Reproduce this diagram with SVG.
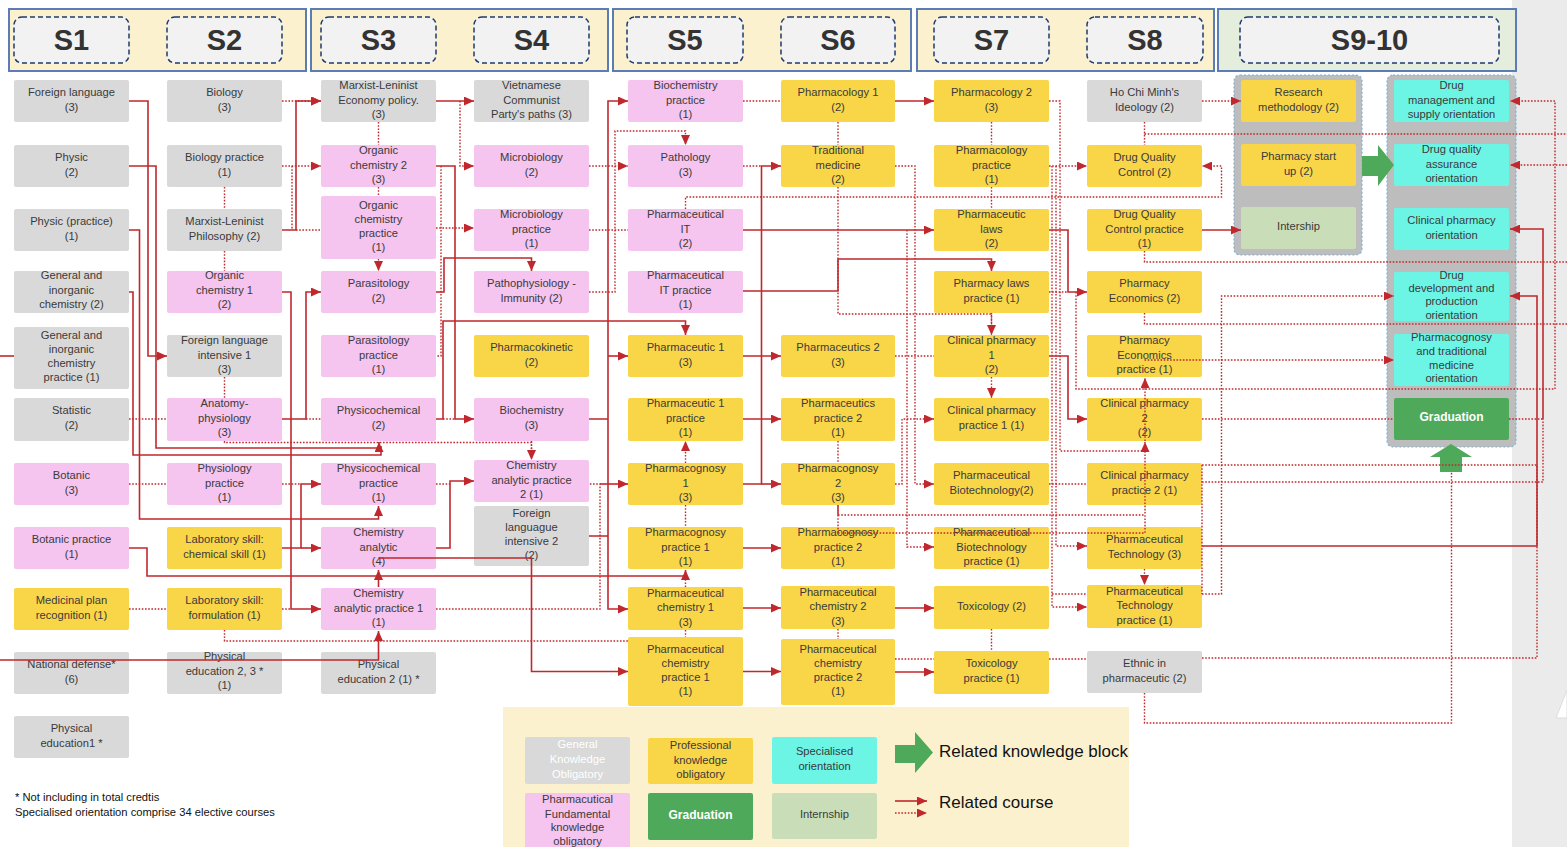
<svg xmlns="http://www.w3.org/2000/svg" width="1567" height="847" viewBox="0 0 1567 847">
<defs>
<style>
text{font-family:"Liberation Sans",Arial,Helvetica,sans-serif;font-size:11.2px;fill:#3a3a3a;text-anchor:middle;transform:translate(0px,-2px)}
.g{fill:#d9d9d9}.p{fill:#f5c4ef}.y{fill:#f9d548}.c{fill:#6cf5e5}.gr{fill:#4eaa5a}.lg{fill:#c9deb8}
.g,.p,.y,.c,.gr,.lg{rx:2px}
.band{fill:#fcf1cf;stroke:#5b7db3;stroke-width:2}
.sem{fill:#f2f2f2;stroke:#1d3a6e;stroke-width:1.5;stroke-dasharray:5 3;rx:8px}
.hl{font-size:29px;font-weight:bold;fill:#333;transform:translate(0px,-1px)}
.cont{fill:#bdbdbd;stroke:#7fb3d5;stroke-width:1.2;stroke-dasharray:2 2;rx:6px}
.s{fill:none;stroke:#c0282d;stroke-width:1.6}
.d{fill:none;stroke:#c0282d;stroke-width:1.4;stroke-dasharray:1.6 1.6}
.a{marker-end:url(#ah)}
.w{fill:#fff}
.wb{fill:#fff;font-weight:bold;font-size:12px}
.big{fill:#4eaa5a}
.lt{font-size:17px;fill:#111;text-anchor:start}
.fn{font-size:11.2px;fill:#111;text-anchor:start}
</style>
<marker id="ah" viewBox="0 0 10 9" refX="10" refY="4.5" markerWidth="10" markerHeight="9" markerUnits="userSpaceOnUse" orient="auto"><path d="M0,0L10,4.5L0,9z" fill="#c0282d"/></marker>
</defs>
<rect x="0" y="0" width="1567" height="847" fill="#fff"/>
<rect x="1512" y="0" width="55" height="847" fill="#ebebeb"/>
<polygon points="1556,718 1567,690 1567,718" fill="#fff" stroke="#dcdcdc" stroke-width="1"/>

<g id="header">
<rect class="band" x="9" y="9" width="297" height="62"/>
<rect class="band" x="311" y="9" width="297" height="62"/>
<rect class="band" x="613" y="9" width="298" height="62"/>
<rect class="band" x="917" y="9" width="297" height="62"/>
<rect class="band" x="1218" y="9" width="298" height="62" style="fill:#e5eedc"/>
<rect class="sem" x="14" y="17" width="115" height="46"/><text class="hl" x="71.5" y="50.5">S1</text>
<rect class="sem" x="167" y="17" width="115" height="46"/><text class="hl" x="224.5" y="50.5">S2</text>
<rect class="sem" x="321" y="17" width="115" height="46"/><text class="hl" x="378.5" y="50.5">S3</text>
<rect class="sem" x="474" y="17" width="115" height="46"/><text class="hl" x="531.5" y="50.5">S4</text>
<rect class="sem" x="627" y="17" width="116" height="46"/><text class="hl" x="685" y="50.5">S5</text>
<rect class="sem" x="781" y="17" width="114" height="46"/><text class="hl" x="838" y="50.5">S6</text>
<rect class="sem" x="934" y="17" width="115" height="46"/><text class="hl" x="991.5" y="50.5">S7</text>
<rect class="sem" x="1087" y="17" width="116" height="46"/><text class="hl" x="1145" y="50.5">S8</text>
<rect class="sem" x="1240" y="17" width="259" height="46"/><text class="hl" x="1369.5" y="50.5">S9-10</text>
</g>

<g id="legend">
<rect x="503" y="707" width="626" height="140" fill="#fcf1cf"/>
<rect class="g" x="525" y="737" width="105" height="47"/><text class="w" x="577.5" y="750">General<tspan x="577.5" dy="15">Knowledge</tspan><tspan x="577.5" dy="15">Obligatory</tspan></text>
<rect class="y" x="648" y="738" width="105" height="46"/><text x="700.5" y="751">Professional<tspan x="700.5" dy="14.5">knowledge</tspan><tspan x="700.5" dy="14">obligatory</tspan></text>
<rect class="c" x="772" y="737" width="105" height="47"/><text x="824.5" y="757">Specialised<tspan x="824.5" dy="14.5">orientation</tspan></text>
<rect class="p" x="525" y="793" width="105" height="60"/><text x="577.5" y="805">Pharmacutical<tspan x="577.5" dy="14.5">Fundamental</tspan><tspan x="577.5" dy="13.5">knowledge</tspan><tspan x="577.5" dy="13.5">obligatory</tspan></text>
<rect class="gr" x="648" y="793" width="105" height="47"/><text class="wb" x="700.5" y="821">Graduation</text>
<rect class="lg" x="772" y="793" width="105" height="46"/><text x="824.5" y="820">Internship</text>
<polygon class="big" points="895,745 915,745 915,732 933,752.5 915,773 915,763 895,763"/>
<text class="lt" x="939" y="759">Related knowledge block</text>
<path class="s a" d="M895,801H927"/>
<path class="d a" d="M895,813H927"/>
<text class="lt" x="939" y="810">Related course</text>
</g>

<g id="footnote">
<text class="fn" x="15" y="803">* Not including in total credtis</text>
<text class="fn" x="15" y="818">Specialised orientation comprise 34 elective courses</text>
</g>

<g id="containers">
<rect class="cont" x="1234" y="75" width="128" height="180"/>
<rect class="cont" x="1387" y="75" width="129" height="372"/>
<polygon class="big" points="1362,156 1378,156 1378,145 1394,165 1378,186 1378,176 1362,176"/>
<polygon class="big" points="1440,472 1440,457 1430,457 1451,444 1472,457 1462,457 1462,472"/>
</g>

<g id="col1">
<g id="foreign-language"><rect class="g" x="14" y="80" width="115" height="42"/><text x="71.5" y="97.5">Foreign language<tspan x="71.5" dy="15">(3)</tspan></text></g>
<g id="physic"><rect class="g" x="14" y="145" width="115" height="42"/><text x="71.5" y="162.5">Physic<tspan x="71.5" dy="15">(2)</tspan></text></g>
<g id="physic-practice"><rect class="g" x="14" y="209" width="115" height="42"/><text x="71.5" y="226.5">Physic (practice)<tspan x="71.5" dy="15">(1)</tspan></text></g>
<g id="gen-inorg-chem"><rect class="g" x="14" y="271" width="115" height="42"/><text x="71.5" y="281">General and<tspan x="71.5" dy="14.5">inorganic</tspan><tspan x="71.5" dy="14.5">chemistry (2)</tspan></text></g>
<g id="gen-inorg-chem-practice"><rect class="g" x="14" y="327" width="115" height="62"/><text x="71.5" y="341">General and<tspan x="71.5" dy="14">inorganic</tspan><tspan x="71.5" dy="14">chemistry</tspan><tspan x="71.5" dy="14">practice (1)</tspan></text></g>
<g id="statistic"><rect class="g" x="14" y="398" width="115" height="43"/><text x="71.5" y="415.5">Statistic<tspan x="71.5" dy="15">(2)</tspan></text></g>
<g id="botanic"><rect class="p" x="14" y="463" width="115" height="42"/><text x="71.5" y="480.5">Botanic<tspan x="71.5" dy="15">(3)</tspan></text></g>
<g id="botanic-practice"><rect class="p" x="14" y="527" width="115" height="42"/><text x="71.5" y="544.5">Botanic practice<tspan x="71.5" dy="15">(1)</tspan></text></g>
<g id="medicinal-plan"><rect class="y" x="14" y="588" width="115" height="42"/><text x="71.5" y="605.5">Medicinal plan<tspan x="71.5" dy="15">recognition (1)</tspan></text></g>
<g id="national-defense"><rect class="g" x="14" y="652" width="115" height="42"/><text x="71.5" y="669.5">National defense*<tspan x="71.5" dy="15">(6)</tspan></text></g>
<g id="physical-education1"><rect class="g" x="14" y="716" width="115" height="42"/><text x="71.5" y="733.5">Physical<tspan x="71.5" dy="15">education1 *</tspan></text></g>
</g>

<g id="col2">
<g id="biology"><rect class="g" x="167" y="80" width="115" height="42"/><text x="224.5" y="97.5">Biology<tspan x="224.5" dy="15">(3)</tspan></text></g>
<g id="biology-practice"><rect class="g" x="167" y="145" width="115" height="42"/><text x="224.5" y="162.5">Biology practice<tspan x="224.5" dy="15">(1)</tspan></text></g>
<g id="ml-philosophy"><rect class="g" x="167" y="209" width="115" height="42"/><text x="224.5" y="226.5">Marxist-Leninist<tspan x="224.5" dy="15">Philosophy (2)</tspan></text></g>
<g id="organic-chem-1"><rect class="p" x="167" y="271" width="115" height="42"/><text x="224.5" y="281">Organic<tspan x="224.5" dy="14.5">chemistry 1</tspan><tspan x="224.5" dy="14.5">(2)</tspan></text></g>
<g id="foreign-lang-int-1"><rect class="g" x="167" y="335" width="115" height="42"/><text x="224.5" y="346">Foreign language<tspan x="224.5" dy="14.5">intensive 1</tspan><tspan x="224.5" dy="14.5">(3)</tspan></text></g>
<g id="anatomy-physiology"><rect class="p" x="167" y="398" width="115" height="43"/><text x="224.5" y="409">Anatomy-<tspan x="224.5" dy="14.5">physiology</tspan><tspan x="224.5" dy="14.5">(3)</tspan></text></g>
<g id="physiology-practice"><rect class="p" x="167" y="463" width="115" height="42"/><text x="224.5" y="474">Physiology<tspan x="224.5" dy="14.5">practice</tspan><tspan x="224.5" dy="14.5">(1)</tspan></text></g>
<g id="lab-chemical-skill"><rect class="y" x="167" y="527" width="115" height="42"/><text x="224.5" y="544.5">Laboratory skill:<tspan x="224.5" dy="15">chemical skill (1)</tspan></text></g>
<g id="lab-formulation"><rect class="y" x="167" y="588" width="115" height="42"/><text x="224.5" y="605.5">Laboratory skill:<tspan x="224.5" dy="15">formulation (1)</tspan></text></g>
<g id="physical-education-23"><rect class="g" x="167" y="652" width="115" height="42"/><text x="224.5" y="662">Physical<tspan x="224.5" dy="14.5">education 2, 3 *</tspan><tspan x="224.5" dy="14.5">(1)</tspan></text></g>
</g>

<g id="col3">
<g id="ml-economy"><rect class="g" x="321" y="80" width="115" height="42"/><text x="378.5" y="91">Marxist-Leninist<tspan x="378.5" dy="14.5">Economy policy.</tspan><tspan x="378.5" dy="14.5">(3)</tspan></text></g>
<g id="organic-chem-2"><rect class="p" x="321" y="145" width="115" height="42"/><text x="378.5" y="156">Organic<tspan x="378.5" dy="14.5">chemistry 2</tspan><tspan x="378.5" dy="14.5">(3)</tspan></text></g>
<g id="organic-chem-practice"><rect class="p" x="321" y="196" width="115" height="63"/><text x="378.5" y="210.5">Organic<tspan x="378.5" dy="14">chemistry</tspan><tspan x="378.5" dy="14">practice</tspan><tspan x="378.5" dy="14">(1)</tspan></text></g>
<g id="parasitology"><rect class="p" x="321" y="271" width="115" height="42"/><text x="378.5" y="288.5">Parasitology<tspan x="378.5" dy="15">(2)</tspan></text></g>
<g id="parasitology-practice"><rect class="p" x="321" y="335" width="115" height="42"/><text x="378.5" y="346">Parasitology<tspan x="378.5" dy="14.5">practice</tspan><tspan x="378.5" dy="14.5">(1)</tspan></text></g>
<g id="physicochemical"><rect class="p" x="321" y="398" width="115" height="43"/><text x="378.5" y="415.5">Physicochemical<tspan x="378.5" dy="15">(2)</tspan></text></g>
<g id="physicochemical-practice"><rect class="p" x="321" y="463" width="115" height="42"/><text x="378.5" y="474">Physicochemical<tspan x="378.5" dy="14.5">practice</tspan><tspan x="378.5" dy="14.5">(1)</tspan></text></g>
<g id="chemistry-analytic"><rect class="p" x="321" y="527" width="115" height="42"/><text x="378.5" y="538">Chemistry<tspan x="378.5" dy="14.5">analytic</tspan><tspan x="378.5" dy="14.5">(4)</tspan></text></g>
<g id="chem-analytic-practice-1"><rect class="p" x="321" y="588" width="115" height="42"/><text x="378.5" y="599">Chemistry<tspan x="378.5" dy="14.5">analytic practice 1</tspan><tspan x="378.5" dy="14.5">(1)</tspan></text></g>
<g id="physical-education-2"><rect class="g" x="321" y="652" width="115" height="42"/><text x="378.5" y="669.5">Physical<tspan x="378.5" dy="15">education 2 (1) *</tspan></text></g>
</g>

<g id="col4">
<g id="vietnamese-communist"><rect class="g" x="474" y="80" width="115" height="42"/><text x="531.5" y="91">Vietnamese<tspan x="531.5" dy="14.5">Communist</tspan><tspan x="531.5" dy="14.5">Party's paths (3)</tspan></text></g>
<g id="microbiology"><rect class="p" x="474" y="145" width="115" height="42"/><text x="531.5" y="162.5">Microbiology<tspan x="531.5" dy="15">(2)</tspan></text></g>
<g id="microbiology-practice"><rect class="p" x="474" y="209" width="115" height="42"/><text x="531.5" y="220">Microbiology<tspan x="531.5" dy="14.5">practice</tspan><tspan x="531.5" dy="14.5">(1)</tspan></text></g>
<g id="pathophysiology"><rect class="p" x="474" y="271" width="115" height="42"/><text x="531.5" y="288.5">Pathophysiology -<tspan x="531.5" dy="15">Immunity (2)</tspan></text></g>
<g id="pharmacokinetic"><rect class="y" x="474" y="335" width="115" height="42"/><text x="531.5" y="352.5">Pharmacokinetic<tspan x="531.5" dy="15">(2)</tspan></text></g>
<g id="biochemistry"><rect class="p" x="474" y="398" width="115" height="43"/><text x="531.5" y="415.5">Biochemistry<tspan x="531.5" dy="15">(3)</tspan></text></g>
<g id="chem-analytic-practice-2"><rect class="p" x="474" y="460" width="115" height="42"/><text x="531.5" y="471">Chemistry<tspan x="531.5" dy="14.5">analytic practice</tspan><tspan x="531.5" dy="14.5">2 (1)</tspan></text></g>
<g id="foreign-lang-int-2"><rect class="g" x="474" y="506" width="115" height="60"/><text x="531.5" y="519">Foreign<tspan x="531.5" dy="14">languague</tspan><tspan x="531.5" dy="14">intensive 2</tspan><tspan x="531.5" dy="14">(2)</tspan></text></g>
</g>

<g id="col5">
<g id="biochemistry-practice"><rect class="p" x="628" y="80" width="115" height="42"/><text x="685.5" y="91">Biochemistry<tspan x="685.5" dy="14.5">practice</tspan><tspan x="685.5" dy="14.5">(1)</tspan></text></g>
<g id="pathology"><rect class="p" x="628" y="145" width="115" height="42"/><text x="685.5" y="162.5">Pathology<tspan x="685.5" dy="15">(3)</tspan></text></g>
<g id="pharmaceutical-it"><rect class="p" x="628" y="209" width="115" height="42"/><text x="685.5" y="220">Pharmaceutical<tspan x="685.5" dy="14.5">IT</tspan><tspan x="685.5" dy="14.5">(2)</tspan></text></g>
<g id="pharmaceutical-it-practice"><rect class="p" x="628" y="271" width="115" height="42"/><text x="685.5" y="281">Pharmaceutical<tspan x="685.5" dy="14.5">IT practice</tspan><tspan x="685.5" dy="14.5">(1)</tspan></text></g>
<g id="pharmaceutic-1"><rect class="y" x="628" y="335" width="115" height="42"/><text x="685.5" y="352.5">Pharmaceutic 1<tspan x="685.5" dy="15">(3)</tspan></text></g>
<g id="pharmaceutic-1-practice"><rect class="y" x="628" y="398" width="115" height="43"/><text x="685.5" y="409">Pharmaceutic 1<tspan x="685.5" dy="14.5">practice</tspan><tspan x="685.5" dy="14.5">(1)</tspan></text></g>
<g id="pharmacognosy-1"><rect class="y" x="628" y="463" width="115" height="42"/><text x="685.5" y="474">Pharmacognosy<tspan x="685.5" dy="14.5">1</tspan><tspan x="685.5" dy="14.5">(3)</tspan></text></g>
<g id="pharmacognosy-practice-1"><rect class="y" x="628" y="527" width="115" height="42"/><text x="685.5" y="538">Pharmacognosy<tspan x="685.5" dy="14.5">practice 1</tspan><tspan x="685.5" dy="14.5">(1)</tspan></text></g>
<g id="pharma-chem-1"><rect class="y" x="628" y="587" width="115" height="43"/><text x="685.5" y="598.5">Pharmaceutical<tspan x="685.5" dy="14.5">chemistry 1</tspan><tspan x="685.5" dy="14.5">(3)</tspan></text></g>
<g id="pharma-chem-practice-1"><rect class="y" x="628" y="637" width="115" height="69"/><text x="685.5" y="654.5">Pharmaceutical<tspan x="685.5" dy="14">chemistry</tspan><tspan x="685.5" dy="14">practice 1</tspan><tspan x="685.5" dy="14">(1)</tspan></text></g>
</g>

<g id="col6">
<g id="pharmacology-1"><rect class="y" x="781" y="80" width="114" height="42"/><text x="838" y="97.5">Pharmacology 1<tspan x="838" dy="15">(2)</tspan></text></g>
<g id="traditional-medicine"><rect class="y" x="781" y="145" width="114" height="42"/><text x="838" y="156">Traditional<tspan x="838" dy="14.5">medicine</tspan><tspan x="838" dy="14.5">(2)</tspan></text></g>
<g id="pharmaceutics-2"><rect class="y" x="781" y="335" width="114" height="42"/><text x="838" y="352.5">Pharmaceutics 2<tspan x="838" dy="15">(3)</tspan></text></g>
<g id="pharmaceutics-practice-2"><rect class="y" x="781" y="398" width="114" height="43"/><text x="838" y="409">Pharmaceutics<tspan x="838" dy="14.5">practice 2</tspan><tspan x="838" dy="14.5">(1)</tspan></text></g>
<g id="pharmacognosy-2"><rect class="y" x="781" y="463" width="114" height="42"/><text x="838" y="474">Pharmacognosy<tspan x="838" dy="14.5">2</tspan><tspan x="838" dy="14.5">(3)</tspan></text></g>
<g id="pharmacognosy-practice-2"><rect class="y" x="781" y="527" width="114" height="42"/><text x="838" y="538">Pharmacognosy<tspan x="838" dy="14.5">practice 2</tspan><tspan x="838" dy="14.5">(1)</tspan></text></g>
<g id="pharma-chem-2"><rect class="y" x="781" y="586" width="114" height="43"/><text x="838" y="597.5">Pharmaceutical<tspan x="838" dy="14.5">chemistry 2</tspan><tspan x="838" dy="14.5">(3)</tspan></text></g>
<g id="pharma-chem-practice-2"><rect class="y" x="781" y="639" width="114" height="66"/><text x="838" y="655">Pharmaceutical<tspan x="838" dy="14">chemistry</tspan><tspan x="838" dy="14">practice 2</tspan><tspan x="838" dy="14">(1)</tspan></text></g>
</g>

<g id="col7">
<g id="pharmacology-2"><rect class="y" x="934" y="80" width="115" height="42"/><text x="991.5" y="97.5">Pharmacology 2<tspan x="991.5" dy="15">(3)</tspan></text></g>
<g id="pharmacology-practice"><rect class="y" x="934" y="145" width="115" height="42"/><text x="991.5" y="156">Pharmacology<tspan x="991.5" dy="14.5">practice</tspan><tspan x="991.5" dy="14.5">(1)</tspan></text></g>
<g id="pharmaceutic-laws"><rect class="y" x="934" y="209" width="115" height="42"/><text x="991.5" y="220">Pharmaceutic<tspan x="991.5" dy="14.5">laws</tspan><tspan x="991.5" dy="14.5">(2)</tspan></text></g>
<g id="pharmacy-laws-practice"><rect class="y" x="934" y="271" width="115" height="42"/><text x="991.5" y="288.5">Pharmacy laws<tspan x="991.5" dy="15">practice (1)</tspan></text></g>
<g id="clinical-pharmacy-1"><rect class="y" x="934" y="335" width="115" height="42"/><text x="991.5" y="346">Clinical pharmacy<tspan x="991.5" dy="14.5">1</tspan><tspan x="991.5" dy="14.5">(2)</tspan></text></g>
<g id="clinical-pharmacy-practice-1"><rect class="y" x="934" y="398" width="115" height="43"/><text x="991.5" y="415.5">Clinical pharmacy<tspan x="991.5" dy="15">practice 1 (1)</tspan></text></g>
<g id="pharma-biotech"><rect class="y" x="934" y="463" width="115" height="42"/><text x="991.5" y="480.5">Pharmaceutical<tspan x="991.5" dy="15">Biotechnology(2)</tspan></text></g>
<g id="pharma-biotech-practice"><rect class="y" x="934" y="527" width="115" height="42"/><text x="991.5" y="538">Pharmaceutical<tspan x="991.5" dy="14.5">Biotechnology</tspan><tspan x="991.5" dy="14.5">practice (1)</tspan></text></g>
<g id="toxicology"><rect class="y" x="934" y="586" width="115" height="43"/><text x="991.5" y="611.5">Toxicology (2)</text></g>
<g id="toxicology-practice"><rect class="y" x="934" y="651" width="115" height="43"/><text x="991.5" y="669">Toxicology<tspan x="991.5" dy="15">practice (1)</tspan></text></g>
</g>

<g id="col8">
<g id="ho-chi-minh"><rect class="g" x="1087" y="80" width="115" height="42"/><text x="1144.5" y="97.5">Ho Chi Minh's<tspan x="1144.5" dy="15">Ideology (2)</tspan></text></g>
<g id="drug-qc"><rect class="y" x="1087" y="145" width="115" height="42"/><text x="1144.5" y="162.5">Drug Quality<tspan x="1144.5" dy="15">Control (2)</tspan></text></g>
<g id="drug-qc-practice"><rect class="y" x="1087" y="209" width="115" height="42"/><text x="1144.5" y="220">Drug Quality<tspan x="1144.5" dy="14.5">Control practice</tspan><tspan x="1144.5" dy="14.5">(1)</tspan></text></g>
<g id="pharmacy-economics"><rect class="y" x="1087" y="271" width="115" height="42"/><text x="1144.5" y="288.5">Pharmacy<tspan x="1144.5" dy="15">Economics (2)</tspan></text></g>
<g id="pharmacy-economics-practice"><rect class="y" x="1087" y="335" width="115" height="42"/><text x="1144.5" y="346">Pharmacy<tspan x="1144.5" dy="14.5">Economics</tspan><tspan x="1144.5" dy="14.5">practice (1)</tspan></text></g>
<g id="clinical-pharmacy-2"><rect class="y" x="1087" y="398" width="115" height="43"/><text x="1144.5" y="409">Clinical pharmacy<tspan x="1144.5" dy="14.5">2</tspan><tspan x="1144.5" dy="14.5">(2)</tspan></text></g>
<g id="clinical-pharmacy-practice-2"><rect class="y" x="1087" y="463" width="115" height="42"/><text x="1144.5" y="480.5">Clinical pharmacy<tspan x="1144.5" dy="15">practice 2 (1)</tspan></text></g>
<g id="pharma-technology"><rect class="y" x="1087" y="527" width="115" height="42"/><text x="1144.5" y="544.5">Pharmaceutical<tspan x="1144.5" dy="15">Technology (3)</tspan></text></g>
<g id="pharma-technology-practice"><rect class="y" x="1087" y="585" width="115" height="43"/><text x="1144.5" y="596.5">Pharmaceutical<tspan x="1144.5" dy="14.5">Technology</tspan><tspan x="1144.5" dy="14.5">practice (1)</tspan></text></g>
<g id="ethnic"><rect class="g" x="1087" y="651" width="115" height="42"/><text x="1144.5" y="668.5">Ethnic in<tspan x="1144.5" dy="15">pharmaceutic (2)</tspan></text></g>
</g>

<g id="col9">
<g id="research-methodology"><rect class="y" x="1241" y="80" width="115" height="42"/><text x="1298.5" y="97.5">Research<tspan x="1298.5" dy="15">methodology (2)</tspan></text></g>
<g id="pharmacy-startup"><rect class="y" x="1241" y="144" width="115" height="42"/><text x="1298.5" y="161.5">Pharmacy start<tspan x="1298.5" dy="15">up (2)</tspan></text></g>
<g id="intership"><rect class="lg" x="1241" y="207" width="115" height="42"/><text x="1298.5" y="232">Intership</text></g>
</g>

<g id="col10">
<g id="drug-management"><rect class="c" x="1394" y="80" width="115" height="42"/><text x="1451.5" y="91">Drug<tspan x="1451.5" dy="14.5">management and</tspan><tspan x="1451.5" dy="14.5">supply orientation</tspan></text></g>
<g id="drug-quality-assurance"><rect class="c" x="1394" y="144" width="115" height="42"/><text x="1451.5" y="155">Drug quality<tspan x="1451.5" dy="14.5">assurance</tspan><tspan x="1451.5" dy="14.5">orientation</tspan></text></g>
<g id="clinical-pharmacy-orientation"><rect class="c" x="1394" y="208" width="115" height="42"/><text x="1451.5" y="225.5">Clinical pharmacy<tspan x="1451.5" dy="15">orientation</tspan></text></g>
<g id="drug-development"><rect class="c" x="1394" y="272" width="115" height="49"/><text x="1451.5" y="281">Drug<tspan x="1451.5" dy="13.2">development and</tspan><tspan x="1451.5" dy="13.2">production</tspan><tspan x="1451.5" dy="13.2">orientation</tspan></text></g>
<g id="pharmacognosy-orientation"><rect class="c" x="1394" y="334" width="115" height="52"/><text x="1451.5" y="343">Pharmacognosy<tspan x="1451.5" dy="13.8">and traditional</tspan><tspan x="1451.5" dy="13.8">medicine</tspan><tspan x="1451.5" dy="13.8">orientation</tspan></text></g>
<g id="graduation"><rect class="gr" x="1394" y="398" width="115" height="42"/><text class="wb" x="1451.5" y="423">Graduation</text></g>
</g>

<g id="connectors">
<path class="s a" d="M129,101H148V356H167"/>
<path class="s a" d="M129,166H156V448H379V442"/>
<path class="s" d="M129,292H133V455H381V446"/>
<path class="s a" d="M129,230H139.5V519H378.5V506"/>
<path class="s" d="M0,356H14"/>
<path class="d" d="M129,419H167M129,484H167M129,609H167"/>
<path class="s a" d="M129,548H147V576H685.5V570"/>
<path class="s a" d="M0,660H378.5V631"/>
<path class="d a" d="M282,101H321"/>
<path class="s a" d="M282,230H296V101H321"/>
<path class="d a" d="M282,166H321"/>
<path class="d" d="M292,166V230M296,230H321"/>
<path class="d" d="M224.5,187V209M224.5,251V271M224.5,377V398"/>
<path class="s a" d="M282,292H291V609H321"/>
<path class="d" d="M282,609H291"/>
<path class="s a" d="M282,419H306V292H321"/>
<path class="d" d="M306,419H321"/>
<path class="d a" d="M224.5,441V442.5H531.5V460"/>
<path class="d" d="M531.5,441V450"/>
<path class="d" d="M282,484H301"/>
<path class="s a" d="M282,548H301V484H321"/>
<path class="s a" d="M301,548H321"/>
<path class="d" d="M224.5,630V641H628"/>
<path class="s a" d="M436,101H474"/>
<path class="d a" d="M460,101V166H474"/>
<path class="d" d="M378.5,122V145M378.5,187V196"/>
<path class="d a" d="M378.5,259V271"/>
<path class="s a" d="M436,166H455V419H474"/>
<path class="d" d="M441,166V356H436"/>
<path class="d a" d="M436,228H474"/>
<path class="s a" d="M436,292H444V258H531.5V271"/>
<path class="s a" d="M436,419H443V321H685.5V335"/>
<path class="d" d="M443,419H455"/>
<path class="d" d="M436,484H450"/>
<path class="s a" d="M436,548H450V481H474"/>
<path class="d" d="M436,609H600V484H589"/>
<path class="s a" d="M378.5,587V570"/>
<path class="s a" d="M378.5,558H531.5V671.5H628"/>
<path class="s" d="M589,419H608M589,536H608"/>
<path class="s a" d="M608,419V101H628"/>
<path class="s a" d="M608,419V609H628"/>
<path class="s a" d="M608,356H628"/>
<path class="s a" d="M600,484H628"/>
<path class="d a" d="M589,166H628"/>
<path class="d" d="M589,230H628"/>
<path class="d a" d="M589,292H615V131H685.5V145"/>
<path class="d" d="M743,101H781M743,166H761.5"/>
<path class="s a" d="M743,484H761.5V166H781"/>
<path class="s a" d="M743,230H934"/>
<path class="d a" d="M685.5,209V197H1221.5V166H1202"/>
<path class="s a" d="M743,291H838V259H991.5V271"/>
<path class="s a" d="M743,356H781"/>
<path class="s a" d="M743,419H781"/>
<path class="d a" d="M685.5,463V441"/>
<path class="s a" d="M761.5,484H781"/>
<path class="d" d="M685.5,505V527M685.5,576V587M685.5,630V637"/>
<path class="s a" d="M743,548H781"/>
<path class="s a" d="M743,608H781"/>
<path class="s a" d="M743,671.5H781"/>
<path class="s a" d="M895,101H934"/>
<path class="d" d="M838,122V145"/>
<path class="d a" d="M838,187V314H991.5V335"/>
<path class="d a" d="M895,166H915V484H934"/>
<path class="d a" d="M907,230V547H934"/>
<path class="d" d="M895,356H934"/>
<path class="d" d="M838,441V463"/>
<path class="d a" d="M895,484H902V419H934"/>
<path class="s" d="M838,505V515"/>
<path class="d" d="M838,515V533M838,629V639"/>
<path class="d" d="M838,515H1145"/>
<path class="d a" d="M838,533H1145V442"/>
<path class="d a" d="M1145,441V378"/>
<path class="d" d="M991.5,122V145M991.5,187V209M991.5,313V335M991.5,629V651"/>
<path class="d a" d="M991.5,377V398"/>
<path class="s a" d="M895,608H934"/>
<path class="d" d="M895,659H934"/>
<path class="s a" d="M895,672H934"/>
<path class="d" d="M1049,101H1060V451H1145"/>
<path class="d a" d="M1049,166H1087"/>
<path class="d a" d="M1052,166V607H1087"/>
<path class="d a" d="M1056,166V546H1087"/>
<path class="d" d="M1052,594H1087"/>
<path class="s a" d="M1049,230H1068V292H1087"/>
<path class="d" d="M1049,292H1068"/>
<path class="s a" d="M1049,356H1068V419H1087"/>
<path class="d a" d="M1076,292V389H1555V101H1510"/>
<path class="d" d="M1049,484H1087M1049,659H1087"/>
<path class="d a" d="M1144.5,569V585"/>
<path class="d" d="M1144.5,693V723H1451.5V472"/>
<path class="d" d="M1202,658H1537V546"/>
<path class="s a" d="M1202,546H1537V296H1510"/>
<path class="d a" d="M1202,594H1221.5V296H1394"/>
<path class="d" d="M1202,482H1543V419"/>
<path class="d" d="M1202,419H1394M1509,419H1543"/>
<path class="s a" d="M1543,419V229H1510"/>
<path class="d a" d="M1144.5,360H1394"/>
<path class="d" d="M1144.5,313V324H1567"/>
<path class="d" d="M1144.5,122V145M1144.5,134H1567"/>
<path class="d" d="M1144.5,251V262H1567"/>
<path class="d a" d="M1202,101H1241"/>
<path class="s a" d="M1202,230H1241"/>
<path class="d a" d="M1567,165H1510"/>
<path class="d" d="M1202,465H1537V546M1202,465V594"/>
</g>
</svg>
